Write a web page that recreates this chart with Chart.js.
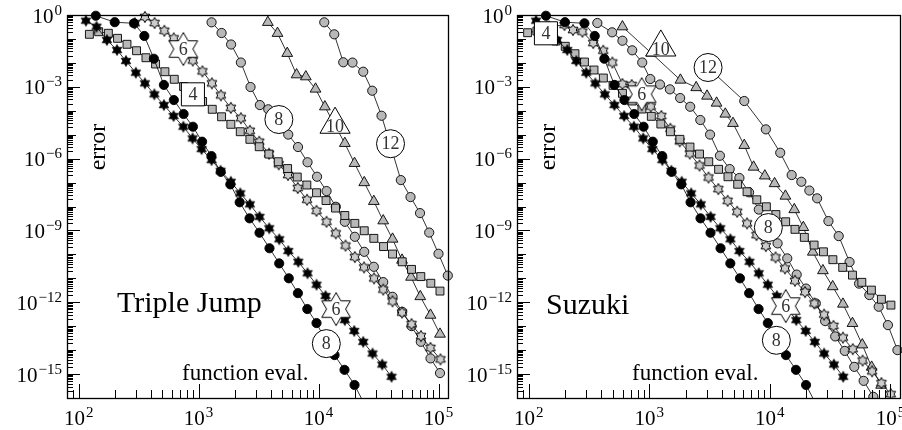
<!DOCTYPE html>
<html><head><meta charset="utf-8">
<script src="https://cdn.jsdelivr.net/npm/chart.js@4.4.1/dist/chart.umd.min.js"></script>
<style>
html,body{margin:0;padding:0;background:#fff;overflow:hidden;}
#wrap{position:relative;width:902px;height:430px;}
#c1{position:absolute;left:0;top:0;}
#c2{position:absolute;left:451px;top:0;}
</style></head><body>
<div id="wrap"><canvas id="c1" width="462" height="430"></canvas><canvas id="c2" width="451" height="430"></canvas></div>
<script>
// ---------- data (function evaluations vs. error) ----------
// black series (identical in both panels)
const evalB8 = [139,200,290,353,424,514,622,750,897,1070,1280,1530,1840,2200,2660,3220,3900,4700,5650,6730,8060,9620,11430,13600,16460,19950,24150];
const errB8  = [0.93,0.5,0.45,0.133,0.0149,1.2e-3,2.8e-4,7.3e-5,2.15e-5,5.1e-6,1.28e-6,2.8e-7,8.4e-8,1.5e-8,3.2e-9,8e-10,1.8e-10,4.2e-11,1e-11,2.4e-12,5.2e-13,1.35e-13,2.6e-14,6.2e-15,1.5e-15,3.5e-16,5.5e-17];
const evalB6 = [115,141,172,209,248,300,357,428,514,619,746,891,1059,1283,1525,1858,2226,2677,3223,3882,4705,5591,6774,8095,9620,11430,13860,16560,19840,23580,28180,33950,40600];
const errB6  = [0.578,0.324,0.0902,0.0345,0.012,3.88e-3,1.4e-3,4.85e-4,1.73e-4,6.0e-5,2.15e-5,7.0e-6,2.5e-6,8.7e-7,3.1e-7,1.08e-7,3.54e-8,1.23e-8,3.7e-9,1.23e-9,4.27e-10,1.38e-10,4.9e-11,1.62e-11,5.4e-12,1.82e-12,5.7e-13,1.8e-13,6.3e-14,2.2e-14,7.2e-15,2.5e-15,7.7e-16];

// Triple Jump panel
const tjEval4 = [123,147,177,211,253,304,364,438,524,627,750,900,1080,1300,1555,1858,2226,2677,3204,3854,4613,5521,6645,7990,9620,11550,13860,16560,20070,24040,28900,34830,41380,49830,59570,71200,86300,102900];
const tjErr4  = [0.156,0.2,0.172,0.106,0.0597,0.0322,0.0164,8.96e-3,4.27e-3,2.06e-3,1.03e-3,5.0e-4,2.43e-4,1.15e-4,5.6e-5,2.71e-5,1.33e-5,6.4e-6,3.14e-6,1.55e-6,7.4e-7,3.85e-7,1.7e-7,7.9e-8,3.75e-8,1.77e-8,8.6e-9,4.2e-9,1.97e-9,9.7e-10,4.67e-10,2.12e-10,1.03e-10,4.9e-11,2.36e-11,1.18e-11,6.2e-12,2.93e-12];
const tjEval6 = [294,357,430,518,621,746,895,1076,1291,1535,1858,2252,2677,3204,3868,4660,5570,6710,8020,9620,11660,13930,16790,20070,23930,29000,34600,41380,49650,59570,71450,85740,103900];
const tjErr6  = [0.45,0.825,0.463,0.219,0.106,0.0345,0.01256,4.44e-3,1.4e-3,4.41e-4,1.32e-4,4.87e-5,1.46e-5,5.07e-6,1.6e-6,5.8e-7,2.06e-7,5.9e-8,1.91e-8,6.6e-9,2.3e-9,7.55e-10,2.33e-10,7.7e-11,2.86e-11,9.9e-12,3.38e-12,1.09e-12,3.7e-13,1.22e-13,3.85e-14,1.24e-14,4.13e-15];
const tjEval8 = [1283,1555,1866,2252,2710,3243,3810,4705,5591,6745,8095,9716,11660,13930,16560,20070,24040,28900,34600,41380,49830,59570,71200,85740,102900];
const tjErr8  = [0.495,0.177,0.0585,0.01035,9.8e-4,1.73e-4,1.15e-4,3.72e-5,1.01e-5,3.05e-6,7.06e-7,1.75e-7,4.42e-8,9.75e-9,2.3e-9,5.43e-10,1.28e-10,3.03e-11,6.95e-12,1.69e-12,3.99e-13,1.01e-13,2.23e-14,4.51e-15,1.1e-15];
const tjEval10 = [3780,4550,5483,6560,7834,9440,11290,13670,16560,19950,24040,28900,34600,41380,49650,59000,70500,85740,102900];
const tjErr10  = [0.495,0.172,0.0251,3.2e-3,2.64e-3,8.09e-4,1.47e-4,2.53e-5,4.35e-6,6.35e-7,1.0e-7,1.64e-8,2.54e-9,4.36e-10,5.78e-11,1.12e-11,1.73e-12,2.9e-13,4.68e-14];
const tjEval12 = [11160,13520,16070,19190,23580,28030,33500,40190,48530,58430,70150,83660,100000,119550];
const tjErr12  = [0.495,0.156,0.0106,0.0103,4.27e-3,6.87e-4,6.19e-5,3.05e-6,1.27e-7,2.48e-8,5.3e-9,8.15e-10,1.06e-10,1.3e-11];
const tjLabelEval  = [746,897,4670,13730,39810,14000,11610];
const tjLabelErr   = [0.0379,4.85e-4,4.3e-5,2.65e-5,4.19e-6,5.18e-13,1.87e-14];
const tjLabelOrder = [6,4,8,10,12,6,8];

// Suzuki panel
const szEval4 = [98,117,140,168,201,242,290,348,416,501,599,722,869,1040,1247,1496,1795,2176,2610,3113,3758,4493,5410,6470,7795,9354,11220,13520,16150,19310,23270,27810,33310,40190,48420,57900,69500,84140,100900];
const szErr4  = [0.182,0.214,0.133,0.082,0.0492,0.0241,0.01086,5.03e-3,2.33e-3,1.15e-3,5.34e-4,2.55e-4,1.18e-4,5.85e-5,2.79e-5,1.33e-5,6.4e-6,3.05e-6,1.55e-6,7.4e-7,3.57e-7,1.75e-7,8.5e-8,4.13e-8,1.91e-8,9.75e-9,4.6e-9,2.3e-9,1.11e-9,5.13e-10,2.45e-10,1.28e-10,6.0e-11,2.86e-11,1.36e-11,6.8e-12,3.22e-12,1.33e-12,7.6e-13];
const szEval6 = [147,198,233,279,343,415,494,599,715,857,1029,1259,1496,1789,2167,2610,3102,3737,4467,5358,6470,7745,9261,11160,13340,16150,19570,23390,28180,33690,40370,48700,58750,70390,84140,100600];
const szErr6  = [0.331,0.382,0.236,0.2,0.0676,0.0322,0.01035,1.31e-3,1.19e-3,4.33e-4,1.5e-4,6.0e-5,1.77e-5,5.27e-6,1.63e-6,5.14e-7,1.62e-7,5.35e-8,1.72e-8,6.03e-9,1.97e-9,6.4e-10,2.22e-10,7.48e-11,2.6e-11,7.9e-12,2.66e-12,8.97e-13,3.05e-13,1.03e-13,3.33e-14,1.1e-14,3.65e-15,1.3e-15,4.19e-16,1.45e-16];
const szEval8 = [371,492,599,722,874,1019,1227,1482,1803,2185,2650,3192,3853,4642,5591,6722,8095,9620,11590,13940,16690,19950,24040,28730,34810,41780,50120,59930,72110];
const szErr8  = [0.463,0.189,0.0843,0.0335,0.01035,2.12e-3,1.25e-3,7.85e-4,3.4e-4,1.47e-4,4.1e-5,1.01e-5,1.32e-6,3.67e-7,1.55e-7,3.9e-8,7.45e-9,1.38e-9,2.88e-10,6.8e-11,1.43e-11,3.72e-12,8.95e-13,1.63e-13,3.74e-14,9.27e-15,2.0e-15,5.2e-16,1.12e-16];
const szEval10 = [599,1039,1812,2449,3013,3615,4272,4945,6132,7330,9085,10940,13460,15940,18950,22700,27540,33190,40370,48420,58440,69840,83660];
const szErr10  = [0.324,0.0258,1.92e-3,9.33e-4,4.12e-4,2.1e-4,7.3e-5,2.98e-5,3.59e-6,4.45e-7,1.91e-7,9.1e-8,2.73e-8,7.45e-9,1.34e-9,1.25e-10,2.1e-11,4.5e-12,8.4e-13,1.31e-13,1.67e-14,1.95e-15,3.45e-16];
const szEval12 = [3090,6132,9260,12190,15170,18240,21260,24650,30600,37240,45790,54950,66830,79890,95300,114300];
const szErr12  = [6.1e-3,2.55e-4,1.67e-5,1.76e-6,2.06e-7,1.08e-7,4.64e-8,2.19e-8,2.46e-9,5.8e-10,4.8e-11,6.0e-12,2.0e-12,6.5e-13,1.11e-13,1.0e-14];
const szLabelEval  = [139,1247,3073,866,9716,13550,11320];
const szLabelErr   = [0.172,0.0447,6.4e-3,4.9e-4,1.32e-9,6.9e-13,2.57e-14];
const szLabelOrder = [4,10,12,6,8,6,8];

// axis
const xMin = 80, xMax = 1.2e5, yMin = 1e-16, yMax = 1;
const xTickExps = [2,3,4,5];
const yTickExps = [0,-3,-6,-9,-12,-15];

// ---------- styling ----------
const GRAY = '#b8b8b8';
const SERIF = '"Liberation Serif", "DejaVu Serif", serif';

function hexagram(R, fill, stroke, lw) {
  let s = Math.ceil(2 * R + 2 * lw + 2); if (s % 2) s++;
  const c = document.createElement('canvas'); c.width = s; c.height = s;
  const g = c.getContext('2d');
  const cx = s / 2, cy = s / 2, r = R / Math.sqrt(3);
  g.beginPath();
  for (let k = 0; k < 12; k++) {
    const a = -Math.PI / 2 + k * Math.PI / 6;
    const rr = k % 2 === 0 ? R : r;
    const px = cx + rr * Math.cos(a), py = cy + rr * Math.sin(a);
    if (k === 0) g.moveTo(px, py); else g.lineTo(px, py);
  }
  g.closePath();
  g.fillStyle = fill; g.fill();
  g.lineWidth = lw; g.strokeStyle = stroke; g.lineJoin = 'miter'; g.stroke();
  return c;
}
const starGray = hexagram(5.6, '#cccccc', '#000', 1);
const starBlack = hexagram(5.6, '#000', '#000', 0.6);
const starLabel = hexagram(16.5, '#fff', '#000', 1);

const kinds = {
  b8:  {pointStyle: 'circle', pointRadius: 4.6, pointBackgroundColor: '#000'},
  b6:  {pointStyle: starBlack, pointRadius: 4.5, pointBackgroundColor: '#000'},
  g4:  {pointStyle: 'rect', pointRadius: 5.6, pointBackgroundColor: GRAY},
  g6:  {pointStyle: starGray, pointRadius: 4.5, pointBackgroundColor: GRAY},
  g8:  {pointStyle: 'circle', pointRadius: 4.6, pointBackgroundColor: GRAY},
  g10: {pointStyle: 'triangle', pointRadius: 6.2, pointBackgroundColor: GRAY},
  g12: {pointStyle: 'circle', pointRadius: 4.6, pointBackgroundColor: GRAY}
};
const labelStyle = {
  4:  {s: 'rect', r: 16.3},
  6:  {s: starLabel, r: 16},
  8:  {s: 'circle', r: 14},
  10: {s: 'triangle', r: 17.4},
  12: {s: 'circle', r: 14}
};

function series(xs, ys, kind) {
  const st = kinds[kind];
  return Object.assign({
    type: 'scatter', showLine: true, order: 1,
    data: xs.map((v, i) => ({x: v, y: ys[i]})),
    borderColor: '#000', borderWidth: 0.8,
    pointBorderColor: '#000', pointBorderWidth: 0.9,
    pointHoverRadius: 0,
    clip: {left: 6, top: 6, right: 6, bottom: 0}
  }, st);
}
function labels(xs, ys, ords) {
  return {
    type: 'scatter', showLine: false, order: 0, isLabel: true,
    data: xs.map((v, i) => ({x: v, y: ys[i]})),
    pointStyle: ords.map(o => labelStyle[o].s),
    pointRadius: ords.map(o => labelStyle[o].r),
    pointBackgroundColor: '#fff', pointBorderColor: '#000', pointBorderWidth: 1,
    clip: false, orders: ords
  };
}

function drawPow(ctx, exp, x, y, align) {
  const base = '10', sup = exp < 0 ? '\u2212' + (-exp) : String(exp);
  const fb = '21px ' + SERIF, fs = '15px ' + SERIF;
  ctx.font = fb; const wb = ctx.measureText(base).width;
  ctx.font = fs; const ws = ctx.measureText(sup).width;
  const total = wb + 1 + ws;
  const x0 = align === 'right' ? x - total : x - total / 2;
  ctx.textAlign = 'left'; ctx.textBaseline = 'alphabetic';
  ctx.font = fb; ctx.fillText(base, x0, y);
  ctx.font = fs; ctx.fillText(sup, x0 + wb + 1, y - 8);
}

const framePlugin = {
  id: 'frame',
  afterDatasetsDraw(chart) {
    const {ctx} = chart;
    chart.data.datasets.forEach((ds, di) => {
      if (!ds.isLabel) return;
      const meta = chart.getDatasetMeta(di);
      meta.data.forEach((el, i) => {
        const o = ds.orders[i];
        ctx.save();
        ctx.fillStyle = '#333';
        ctx.font = '18px ' + SERIF;
        ctx.textAlign = 'center'; ctx.textBaseline = 'middle';
        const dy = o === 10 ? 3 : 1;
        ctx.fillText(String(o), el.x, el.y + dy);
        ctx.restore();
      });
    });
  },
  afterDraw(chart) {
    const {ctx, chartArea: a, scales: {x, y}} = chart;
    const opt = chart.options.plugins.frame;
    ctx.save();
    ctx.strokeStyle = '#000'; ctx.lineWidth = 1;
    ctx.beginPath();
    for (let e = -16; e <= 0; e++) {
      for (let m = 1; m <= 9; m++) {
        const v = m * Math.pow(10, e);
        if (v > yMax * 1.0001) break;
        const py = Math.round(y.getPixelForValue(v)) + 0.5;
        if (py < a.top - 1 || py > a.bottom + 1) continue;
        const len = m === 1 ? (e % 3 === 0 ? 13 : 9) : 6;
        ctx.moveTo(a.left, py); ctx.lineTo(a.left + len, py);
      }
    }
    for (let e = 1; e <= 5; e++) {
      for (let m = 1; m <= 9; m++) {
        const v = m * Math.pow(10, e);
        if (v < xMin * 0.999 || v > xMax) continue;
        const px = Math.round(x.getPixelForValue(v)) + 0.5;
        const len = m === 1 ? 14 : 8;
        ctx.moveTo(px, a.bottom); ctx.lineTo(px, a.bottom - len);
      }
    }
    ctx.stroke();
    ctx.lineWidth = 1.3;
    ctx.strokeRect(Math.round(a.left) + 0.5, Math.round(a.top) + 0.5, Math.round(a.right - a.left), Math.round(a.bottom - a.top));
    ctx.fillStyle = '#000';
    yTickExps.forEach(e => drawPow(ctx, e, a.left - 5, y.getPixelForValue(Math.pow(10, e)) + 7.5, 'right'));
    xTickExps.forEach(e => drawPow(ctx, e, x.getPixelForValue(Math.pow(10, e)), a.bottom + 27, 'center'));
    ctx.font = '23px ' + SERIF; ctx.textAlign = 'left'; ctx.textBaseline = 'alphabetic';
    ctx.fillText('function eval.', a.left + 115, a.bottom - 18);
    ctx.save();
    ctx.translate(a.left + 38, a.top + 132);
    ctx.rotate(-Math.PI / 2);
    ctx.font = '24px ' + SERIF; ctx.textAlign = 'center'; ctx.textBaseline = 'alphabetic';
    ctx.fillText('error', 0, 0);
    ctx.restore();
    ctx.font = '30px ' + SERIF; ctx.textAlign = 'left';
    ctx.fillText(opt.title, a.left + opt.titleDx, opt.titleY);
    ctx.restore();
  }
};

function makeChart(id, datasets, title, pad, titleDx, titleY) {
  return new Chart(document.getElementById(id), {
    type: 'scatter',
    data: {datasets},
    options: {
      responsive: false, animation: false, devicePixelRatio: 1,
      layout: {padding: pad, autoPadding: false},
      events: [],
      scales: {
        x: {type: 'logarithmic', min: xMin, max: xMax, display: false},
        y: {type: 'logarithmic', min: yMin, max: yMax, display: false}
      },
      plugins: {
        legend: {display: false}, tooltip: {enabled: false},
        frame: {title, titleDx, titleY}
      }
    },
    plugins: [framePlugin]
  });
}

makeChart('c1', [
  labels(tjLabelEval, tjLabelErr, tjLabelOrder),
  series(evalB8, errB8, 'b8'),
  series(evalB6, errB6, 'b6'),
  series(tjEval4, tjErr4, 'g4'),
  series(tjEval6, tjErr6, 'g6'),
  series(tjEval8, tjErr8, 'g8'),
  series(tjEval10, tjErr10, 'g10'),
  series(tjEval12, tjErr12, 'g12')
], 'Triple Jump', {left: 67, right: 14, top: 15, bottom: 32}, 50, 312);

makeChart('c2', [
  labels(szLabelEval, szLabelErr, szLabelOrder),
  series(evalB8, errB8, 'b8'),
  series(evalB6, errB6, 'b6'),
  series(szEval4, szErr4, 'g4'),
  series(szEval6, szErr6, 'g6'),
  series(szEval8, szErr8, 'g8'),
  series(szEval10, szErr10, 'g10'),
  series(szEval12, szErr12, 'g12')
], 'Suzuki', {left: 66, right: 2, top: 15, bottom: 32}, 29, 314);
</script></body></html>
